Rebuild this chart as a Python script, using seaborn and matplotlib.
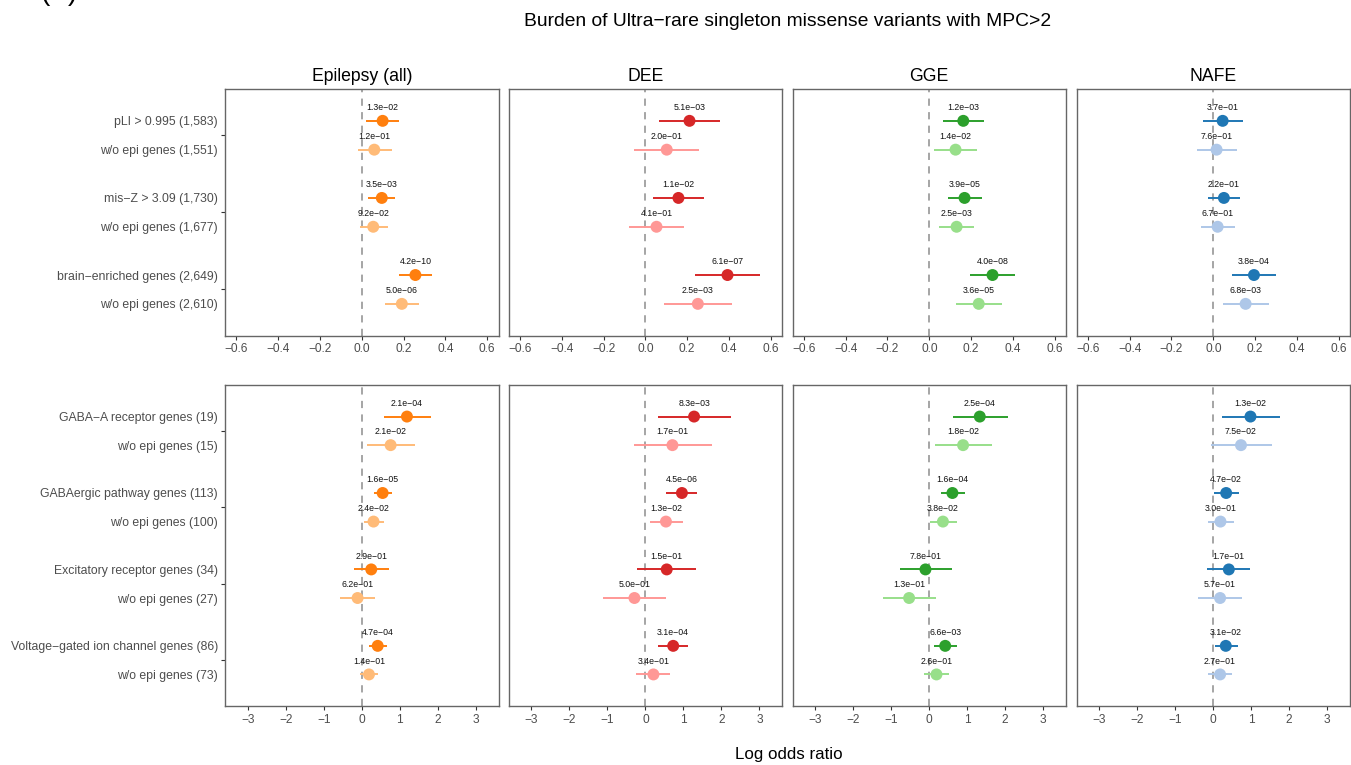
import matplotlib
matplotlib.use("Agg")
import matplotlib.pyplot as plt
import pandas as pd
import seaborn as sns

sns.set_theme(style="white")
plt.rcParams['font.family'] = ['Liberation Sans', 'DejaVu Sans']

# ---- data -------------------------------------------------------------
cohorts = ["Epilepsy (all)", "DEE", "GGE", "NAFE"]
dark_colors = ["#ff7f0e", "#d62728", "#2ca02c", "#1f77b4"]
light_colors = ["#ffbb78", "#ff9896", "#98df8a", "#aec7e8"]

top_sets = ["pLI > 0.995 (1,583)", "w/o epi genes (1,551)",
            "mis\u2212Z > 3.09 (1,730)", "w/o epi genes (1,677)",
            "brain\u2212enriched genes (2,649)", "w/o epi genes (2,610)"]
bottom_sets = ["GABA\u2212A receptor genes (19)", "w/o epi genes (15)",
               "GABAergic pathway genes (113)", "w/o epi genes (100)",
               "Excitatory receptor genes (34)", "w/o epi genes (27)",
               "Voltage\u2212gated ion channel genes (86)", "w/o epi genes (73)"]

# log odds ratios, 95% CI bounds and p-values, one list per cohort
top_log_or = [[0.100, 0.060, 0.096, 0.055, 0.257, 0.192],
              [0.211, 0.102, 0.158, 0.053, 0.393, 0.251],
              [0.163, 0.126, 0.169, 0.131, 0.303, 0.237],
              [0.045, 0.016, 0.051, 0.021, 0.195, 0.155]]
top_ci_lo = [[0.020, -0.017, 0.032, -0.010, 0.177, 0.110],
             [0.064, -0.053, 0.037, -0.077, 0.238, 0.089],
             [0.065, 0.025, 0.089, 0.046, 0.194, 0.126],
             [-0.048, -0.078, -0.027, -0.061, 0.089, 0.045]]
top_ci_hi = [[0.180, 0.144, 0.160, 0.125, 0.337, 0.276],
             [0.359, 0.257, 0.282, 0.185, 0.547, 0.416],
             [0.263, 0.228, 0.252, 0.214, 0.412, 0.349],
             [0.142, 0.115, 0.129, 0.102, 0.302, 0.265]]
top_pvals = [["1.3e\u221202", "1.2e\u221201", "3.5e\u221203", "9.2e\u221202", "4.2e\u221210", "5.0e\u221206"],
             ["5.1e\u221203", "2.0e\u221201", "1.1e\u221202", "4.1e\u221201", "6.1e\u221207", "2.5e\u221203"],
             ["1.2e\u221203", "1.4e\u221202", "3.9e\u221205", "2.5e\u221203", "4.0e\u221208", "3.6e\u221205"],
             ["3.7e\u221201", "7.6e\u221201", "2.2e\u221201", "6.7e\u221201", "3.8e\u221204", "6.8e\u221203"]]

bottom_log_or = [[1.19, 0.76, 0.55, 0.31, 0.25, -0.11, 0.42, 0.19],
                 [1.28, 0.71, 0.96, 0.54, 0.56, -0.29, 0.73, 0.21],
                 [1.33, 0.89, 0.61, 0.36, -0.10, -0.53, 0.42, 0.19],
                 [0.98, 0.73, 0.34, 0.19, 0.41, 0.18, 0.33, 0.18]]
bottom_ci_lo = [[0.58, 0.13, 0.31, 0.06, -0.20, -0.58, 0.19, -0.04],
                [0.33, -0.31, 0.54, 0.12, -0.21, -1.11, 0.33, -0.24],
                [0.63, 0.16, 0.31, 0.03, -0.76, -1.23, 0.13, -0.13],
                [0.22, -0.06, 0.01, -0.15, -0.16, -0.40, 0.04, -0.13]]
bottom_ci_hi = [[1.81, 1.40, 0.80, 0.58, 0.71, 0.35, 0.66, 0.44],
                [2.25, 1.74, 1.36, 0.99, 1.33, 0.54, 1.12, 0.65],
                [2.06, 1.64, 0.95, 0.72, 0.59, 0.17, 0.74, 0.52],
                [1.76, 1.54, 0.68, 0.54, 0.98, 0.76, 0.64, 0.50]]
bottom_pvals = [["2.1e\u221204", "2.1e\u221202", "1.6e\u221205", "2.4e\u221202", "2.9e\u221201", "6.2e\u221201", "4.7e\u221204", "1.4e\u221201"],
                ["8.3e\u221203", "1.7e\u221201", "4.5e\u221206", "1.3e\u221202", "1.5e\u221201", "5.0e\u221201", "3.1e\u221204", "3.4e\u221201"],
                ["2.5e\u221204", "1.8e\u221202", "1.6e\u221204", "3.8e\u221202", "7.8e\u221201", "1.3e\u221201", "6.6e\u221203", "2.6e\u221201"],
                ["1.3e\u221202", "7.5e\u221202", "4.7e\u221202", "3.0e\u221201", "1.7e\u221201", "5.7e\u221201", "3.1e\u221202", "2.7e\u221201"]]

top_xticks = [-0.6, -0.4, -0.2, 0.0, 0.2, 0.4, 0.6]
bottom_xticks = [-3, -2, -1, 0, 1, 2, 3]


def build_frame(sets, log_or, lo, hi, pvals):
    rows = []
    for c, name in enumerate(cohorts):
        for i, label in enumerate(sets):
            group = i // 2
            rows.append(dict(cohort=name, gene_set=label, group=group,
                             kind="all" if i % 2 == 0 else "noepi",
                             ypos=group + (-0.187 if i % 2 == 0 else 0.187),
                             log_or=log_or[c][i], lo=lo[c][i], hi=hi[c][i],
                             p=pvals[c][i]))
    return pd.DataFrame(rows)


top_df = build_frame(top_sets, top_log_or, top_ci_lo, top_ci_hi, top_pvals)
bottom_df = build_frame(bottom_sets, bottom_log_or, bottom_ci_lo, bottom_ci_hi, bottom_pvals)

# ---- figure -----------------------------------------------------------
W, H = 1351, 765
fig = plt.figure(figsize=(W / 100, H / 100), dpi=100)

edge = "#666666"
tick_text = "#4d4d4d"


def px_rect(left, top, width, height):
    return [left / W, 1 - (top + height) / H, width / W, height / H]


def fmt_tick(t):
    s = f"{t:.1f}" if isinstance(t, float) else f"{t}"
    return s.replace("-", "\u2212")


def draw_panel(ax, df, c, sets, xlim, xticks, show_y):
    sub = df[df.cohort == cohorts[c]]
    pal = {"all": dark_colors[c], "noepi": light_colors[c]}
    ax.axvline(0, color="#9e9e9e", lw=1.3, ls=(0, (4, 3.5)), zorder=1)
    ax.hlines(sub.ypos, sub.lo, sub.hi, colors=[pal[k] for k in sub.kind],
              lw=1.4, zorder=2)
    sns.scatterplot(data=sub, x="log_or", y="ypos", hue="kind", palette=pal,
                    s=74, linewidth=0, legend=False, ax=ax, zorder=3)
    for _, r in sub.iterrows():
        ax.annotate(r.p, (r.log_or, r.ypos), xytext=(0, 9.5),
                    textcoords="offset points", ha="center", va="center",
                    fontsize=6.3, color="#111111", zorder=4)
    ngroups = len(sets) // 2
    ax.set_xlim(*xlim)
    ax.set_ylim(ngroups - 1 + 0.6, -0.6)
    ax.set_xticks(xticks)
    ax.set_xticklabels([fmt_tick(t) for t in xticks])
    ax.set_xlabel("")
    ax.set_ylabel("")
    for s in ax.spines.values():
        s.set_color(edge)
        s.set_linewidth(1.0)
    ax.tick_params(axis="x", length=3, width=0.8, color="#333333", pad=2.5,
                   labelsize=8.6, labelcolor=tick_text, bottom=True)
    if show_y:
        ax.set_yticks(range(ngroups))
        ax.set_yticklabels([])
        ax.set_yticks(sub.ypos.tolist(), minor=True)
        ax.set_yticklabels(sub.gene_set.tolist(), minor=True)
        ax.tick_params(axis="y", which="major", length=3, width=0.8,
                       color="#333333", left=True)
        ax.tick_params(axis="y", which="minor", length=0, pad=5,
                       labelsize=8.8, labelcolor=tick_text)
    else:
        ax.set_yticks([])
    ax.grid(False)


lefts = [225, 508.7, 792.5, 1076.5]
for c in range(4):
    ax_t = fig.add_axes(px_rect(lefts[c], 89, 273.5, 246.7))
    draw_panel(ax_t, top_df, c, top_sets, (-0.655, 0.655), top_xticks, c == 0)
    ax_t.set_title(cohorts[c], fontsize=12.7, color="black", pad=6)
    ax_b = fig.add_axes(px_rect(lefts[c], 385, 273.5, 321))
    draw_panel(ax_b, bottom_df, c, bottom_sets, (-3.6, 3.6), bottom_xticks, c == 0)

fig.text(788 / W, 1 - 21 / H, "Burden of Ultra\u2212rare singleton missense variants with MPC>2",
         ha="center", va="center", fontsize=13.9, color="black")
fig.text(789 / W, 1 - 755 / H, "Log odds ratio", ha="center", va="center",
         fontsize=12.2, color="black")
# panel letter, sitting at the very top edge of the page
fig.text(40 / W, 1 + 0.5 / H, "(B)", ha="left", va="baseline", fontsize=20,
         color="black")

fig.savefig("out.png", dpi=100)
